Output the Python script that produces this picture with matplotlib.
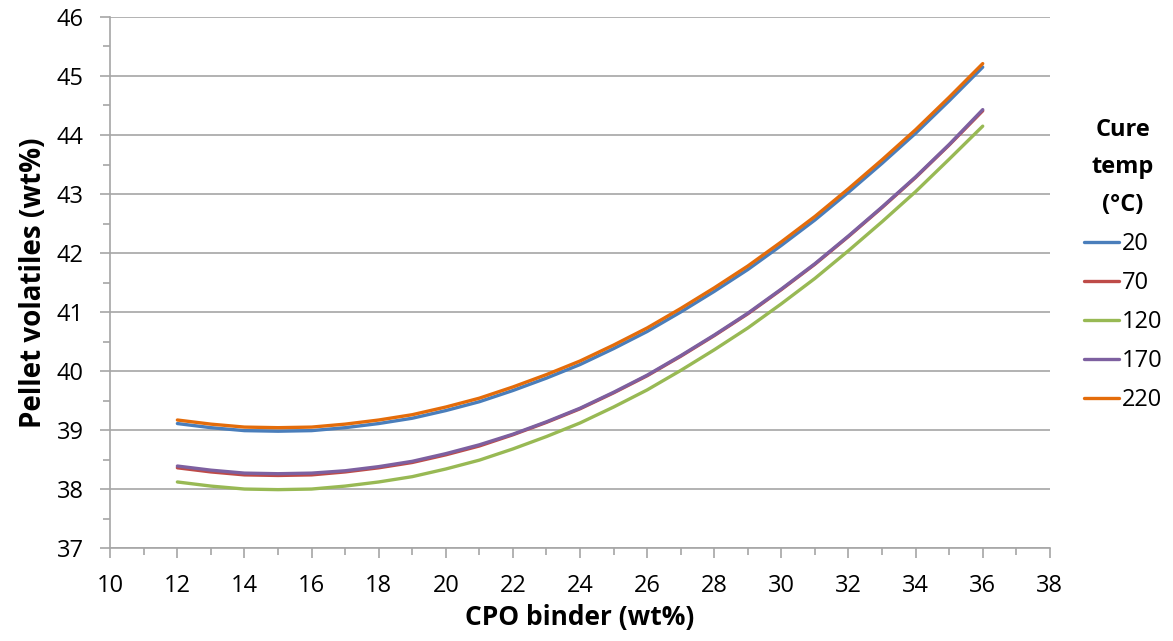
import matplotlib
matplotlib.use('Agg')
from matplotlib import pyplot as plt
from matplotlib.ticker import MultipleLocator

plt.rcParams['font.family'] = ['Open Sans', 'DejaVu Sans']

# CPO binder (wt%)
cpo = [12, 13, 14, 15, 16, 17, 18, 19, 20, 21, 22, 23, 24,
       25, 26, 27, 28, 29, 30, 31, 32, 33, 34, 35, 36]

# pellet volatiles (wt%) per cure temp
t20 = [39.11, 39.04, 38.99, 38.98, 38.99, 39.04, 39.11, 39.20, 39.33, 39.48, 39.67, 39.88, 40.11,
       40.38, 40.67, 41.00, 41.35, 41.72, 42.13, 42.56, 43.03, 43.52, 44.03, 44.58, 45.15]
t70 = [38.36, 38.29, 38.24, 38.23, 38.24, 38.29, 38.36, 38.45, 38.58, 38.73, 38.92, 39.13, 39.36,
       39.63, 39.92, 40.25, 40.60, 40.97, 41.38, 41.81, 42.28, 42.77, 43.28, 43.83, 44.41]
t120 = [38.12, 38.05, 38.00, 37.99, 38.00, 38.05, 38.12, 38.21, 38.34, 38.49, 38.68, 38.89, 39.12,
        39.39, 39.68, 40.01, 40.36, 40.73, 41.14, 41.57, 42.04, 42.53, 43.04, 43.59, 44.15]
t170 = [38.39, 38.32, 38.27, 38.26, 38.27, 38.31, 38.38, 38.47, 38.60, 38.75, 38.93, 39.14, 39.37,
        39.64, 39.93, 40.26, 40.61, 40.98, 41.39, 41.82, 42.29, 42.78, 43.29, 43.84, 44.43]
t220 = [39.17, 39.10, 39.05, 39.04, 39.05, 39.10, 39.17, 39.26, 39.39, 39.54, 39.73, 39.94, 40.17,
        40.44, 40.73, 41.06, 41.41, 41.78, 42.19, 42.62, 43.09, 43.58, 44.09, 44.64, 45.21]

series = [('20', t20, '#4a7ebb'), ('70', t70, '#be4b48'), ('120', t120, '#98b954'),
          ('170', t170, '#7d60a0'), ('220', t220, '#e46c0a')]

fig = plt.figure(figsize=(11.73, 6.41), dpi=100)
ax = fig.add_axes([0.094, 0.145, 0.801, 0.8285])

for name, vals, col in series:
    ax.plot(cpo, vals, color=col, lw=2.4, label=name, solid_capstyle='round')

ax.set_xlim(10, 38)
ax.set_ylim(37, 46)
ax.xaxis.set_major_locator(MultipleLocator(2))
ax.xaxis.set_minor_locator(MultipleLocator(1))
ax.yaxis.set_major_locator(MultipleLocator(1))
ax.yaxis.set_minor_locator(MultipleLocator(0.5))

ax.grid(axis='y', which='major', color='#a6a6a6', lw=1.2)
ax.set_axisbelow(True)
for s in ['top', 'right']:
    ax.spines[s].set_visible(False)
for s in ['left', 'bottom']:
    ax.spines[s].set_color('#a6a6a6')
    ax.spines[s].set_linewidth(1.2)
ax.tick_params(which='both', direction='out', color='#a6a6a6', width=1.2)
ax.tick_params(which='major', length=7, labelsize=17)
ax.tick_params(which='minor', length=5)
ax.tick_params(axis='y', which='major', pad=12)
ax.tick_params(axis='x', which='major', pad=12)

ax.set_xlabel('CPO binder (wt%)', fontsize=19, fontweight='bold', labelpad=4)
ax.set_ylabel('Pellet volatiles (wt%)', fontsize=20, fontweight='bold', labelpad=6)

leg = ax.legend(title='Cure\ntemp\n(°C)', loc='upper left', bbox_to_anchor=(1.036, 0.81),
                frameon=False, fontsize=17, handlelength=1.5, handletextpad=0.1,
                labelspacing=0.64, borderaxespad=0, borderpad=0)
leg.get_title().set_fontweight('bold')
leg.get_title().set_fontsize(17)
leg.get_title().set_multialignment('center')
leg.get_title().set_linespacing(1.75)

fig.savefig('out.png', dpi=100)
